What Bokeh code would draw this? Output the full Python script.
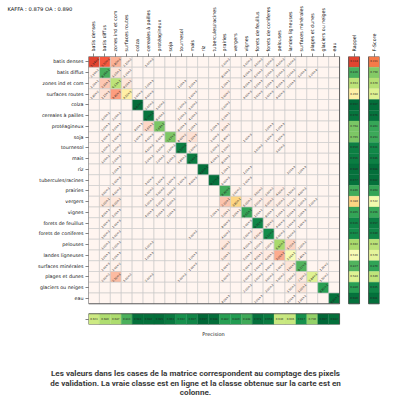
import numpy as np
from bokeh.plotting import figure
from bokeh.models import FactorRange, Label, ColumnDataSource
from bokeh.transform import linear_cmap
from bokeh.core.properties import value
from bokeh.embed import file_html
from bokeh.resources import INLINE

# ---------------- data ----------------
classes = ["batis denses", "batis diffus", "zones ind et com", "surfaces routes", "colza",
           "cereales à pailles", "protéagineux", "soja", "tournesol", "mais", "riz",
           "tubercules/racines", "prairies", "vergers", "vignes", "forets de feuillus",
           "forets de coniferes", "pelouses", "landes ligneuses", "surfaces minérales",
           "plages et dunes", "glaciers ou neiges", "eau"]

kappa = 0.879
oa = 0.890

# row-normalised confusion matrix (true class in rows), sparse: {column index: value}
conf_rows = [
    {0: .134, 1: .55, 2: .28, 3: .021, 5: .001, 12: .002, 14: .001, 15: .003, 16: .002, 17: .004, 18: .002},
    {0: .021, 1: .836, 2: .105, 3: .012, 12: .008, 14: .004, 15: .006, 16: .002, 17: .003, 18: .002, 19: .0005, 20: .0005},
    {0: .012, 1: .21, 2: .653, 3: .09, 5: .002, 8: .001, 9: .003, 12: .012, 14: .004, 15: .005, 16: .002, 17: .004, 18: .002},
    {0: .018, 1: .115, 2: .34, 3: .45, 4: .002, 5: .004, 9: .001, 12: .05, 14: .004, 15: .005, 16: .002, 17: .004},
    {4: .992, 5: .002, 6: .001, 8: .002, 9: .001, 12: .002},
    {1: .001, 2: .002, 5: .970, 6: .008, 8: .003, 9: .004, 12: .012},
    {1: .002, 2: .003, 4: .004, 5: .16, 6: .768, 8: .008, 9: .01, 11: .002, 12: .04, 16: .002, 17: .001},
    {1: .001, 2: .002, 4: .002, 5: .004, 6: .006, 7: .765, 8: .08, 9: .12, 11: .002, 12: .014, 14: .001, 16: .002, 17: .001},
    {1: .001, 2: .002, 5: .004, 6: .003, 7: .002, 8: .950, 9: .02, 11: .002, 12: .012, 15: .001, 17: .003},
    {1: .001, 2: .002, 5: .003, 6: .002, 7: .006, 8: .018, 9: .956, 11: .004, 12: .008},
    {2: .002, 10: .980, 12: .012, 14: .001, 18: .003, 19: .002},
    {2: .002, 5: .003, 6: .002, 7: .002, 8: .002, 9: .004, 11: .977, 12: .006, 14: .002},
    {1: .003, 2: .004, 5: .01, 6: .005, 7: .003, 12: .846, 13: .02, 15: .03, 16: .02, 17: .04, 18: .015, 19: .004},
    {1: .1, 2: .08, 5: .01, 6: .005, 7: .005, 12: .22, 13: .380, 14: .06, 15: .03, 16: .06, 17: .03, 18: .012, 19: .005, 20: .003},
    {1: .004, 2: .005, 5: .004, 6: .003, 7: .002, 11: .002, 12: .05, 13: .03, 14: .865, 15: .01, 16: .008, 17: .01, 18: .005, 19: .002},
    {1: .001, 2: .001, 12: .008, 14: .002, 15: .936, 16: .045, 17: .004, 18: .002, 19: .001},
    {1: .001, 2: .001, 9: .001, 12: .004, 14: .002, 15: .06, 16: .922, 17: .006, 18: .003},
    {1: .001, 2: .002, 5: .001, 12: .08, 14: .004, 15: .01, 16: .02, 17: .692, 18: .17, 19: .02},
    {1: .001, 2: .002, 5: .001, 9: .001, 12: .05, 14: .005, 15: .04, 16: .06, 17: .3, 18: .516, 19: .024},
    {1: .002, 2: .02, 9: .001, 12: .01, 14: .002, 15: .002, 16: .003, 17: .02, 18: .1, 19: .827, 21: .013},
    {1: .02, 2: .25, 3: .01, 5: .002, 8: .001, 12: .01, 14: .002, 15: .002, 16: .003, 17: .01, 18: .02, 19: .071, 20: .584, 21: .015},
    {14: .002, 16: .003, 18: .015, 19: .1, 21: .880},
    {12: .004, 15: .002, 18: .003, 19: .011, 22: .980},
]

recall = [0.134, 0.836, 0.653, 0.450, 0.992, 0.970, 0.768, 0.765, 0.950, 0.956, 0.980, 0.977,
          0.846, 0.380, 0.865, 0.936, 0.922, 0.692, 0.516, 0.827, 0.584, 0.880, 0.980]
fscore = [0.221, 0.750, 0.670, 0.584, 0.987, 0.976, 0.863, 0.853, 0.931, 0.946, 0.988, 0.982,
          0.864, 0.532, 0.856, 0.957, 0.940, 0.660, 0.570, 0.870, 0.649, 0.935, 0.981]
precision = [0.623, 0.680, 0.687, 0.833, 0.983, 0.982, 0.985, 0.963, 0.912, 0.937, 0.997, 0.988,
             0.882, 0.889, 0.848, 0.978, 0.959, 0.630, 0.636, 0.917, 0.730, 0.997, 0.982]

caption = ["Les valeurs dans les cases de la matrice correspondent au comptage des pixels",
           "de validation. La vraie classe est en ligne et la classe obtenue sur la carte est en",
           "colonne."]

# ---------------- palettes ----------------
def interp_palette(anchors, n=256):
    rgb = np.array([[int(h[i:i + 2], 16) for i in (1, 3, 5)] for h in anchors], float)
    pos = np.linspace(0, 1, len(anchors))
    t = np.linspace(0, 1, n)
    out = np.stack([np.interp(t, pos, rgb[:, k]) for k in range(3)], 1)
    return ["#%02x%02x%02x" % tuple(int(round(v)) for v in row) for row in out]

RDYLGN = interp_palette(["#a50026", "#d73027", "#f46d43", "#fdae61", "#fee08b", "#ffffbf",
                         "#d9ef8b", "#a6d96a", "#66bd63", "#1a9850", "#006837"])
REDS = interp_palette(["#fff5f0", "#fee0d2", "#fcbba1", "#fc9272", "#fb6a4a", "#ef3b2c",
                       "#cb181d", "#a50f15", "#67000d"])

def sci(v):
    m, e = ("%.2e" % v).split("e")
    return "%se%d" % (m, int(e))

# ---------------- sources ----------------
n = len(classes)
diag = dict(x=[], y=[], v=[])
off = dict(x=[], y=[], v=[])
txt = dict(x=[], y=[], t=[])
for i, row in enumerate(classes):
    for j, col in enumerate(classes):
        v = conf_rows[i].get(j, 0.0)
        d = diag if i == j else off
        d["x"].append(("m", col)); d["y"].append(("m", row)); d["v"].append(v)
        if v > 0:
            txt["x"].append(("m", col)); txt["y"].append(("m", row)); txt["t"].append(sci(v))

rap_src = ColumnDataSource(dict(x=[("r", "Rappel")] * n, y=[("m", c) for c in classes], v=recall,
                                t=["%.3f" % v for v in recall]))
f_src = ColumnDataSource(dict(x=[("f", "F-Score")] * n, y=[("m", c) for c in classes], v=fscore,
                              t=["%.3f" % v for v in fscore]))
p_src = ColumnDataSource(dict(x=[("m", c) for c in classes], y=[("p", " ")] * n, v=precision,
                              t=["%.3f" % v for v in precision]))

xf = [("m", c) for c in classes] + [("r", "Rappel"), ("f", "F-Score")]
yf = [("p", " ")] + [("m", c) for c in reversed(classes)]

W, H = 400, 396
p = figure(width=W, height=H,
           x_range=FactorRange(factors=xf, group_padding=0.83),
           y_range=FactorRange(factors=yf, group_padding=0.93),
           x_axis_location="above", output_backend="svg", toolbar_location=None,
           min_border_left=88, min_border_right=W - 379, min_border_top=56, min_border_bottom=H - 324)
p.outline_line_color = None
p.grid.grid_line_color = None
p.background_fill_color = "white"

for ax in (p.xaxis[0], p.yaxis[0]):
    ax.axis_line_color = None
    ax.major_tick_in = 0
    ax.major_tick_out = 3
    ax.major_tick_line_color = "#333333"
    ax.major_tick_line_width = 0.6
    ax.major_label_text_font = "DejaVu Sans"
    ax.major_label_text_font_size = "4.8px"
    ax.major_label_text_color = "#111111"
    ax.major_label_standoff = 2
    ax.group_text_font_size = "0px"
    ax.group_text_alpha = 0
    ax.separator_line_color = None
p.xaxis[0].major_label_orientation = np.pi / 2

cell_line = dict(line_color="#c8c8c8", line_width=0.6)
p.rect(x="x", y="y", width=1, height=1, source=ColumnDataSource(off),
       fill_color=linear_cmap("v", REDS, 0, 1), **cell_line)
p.rect(x="x", y="y", width=1, height=1, source=ColumnDataSource(diag),
       fill_color=linear_cmap("v", RDYLGN, 0, 1), **cell_line)

for src in (rap_src, f_src, p_src):
    cm = linear_cmap("v", RDYLGN, 0, 1)
    p.rect(x="x", y="y", width=1, height=1, source=src, fill_color=cm, line_color=cm, line_width=0.3)
    p.text(x="x", y="y", text="t", source=src, text_font_size="2.6px", text_align="center",
           text_baseline="middle", text_color="#222222", text_font=value("DejaVu Sans"))

mid = classes[n // 2]
border = dict(fill_color=None, line_color="#404040", line_width=0.8)
p.rect(x=[("m", mid)], y=[("m", mid)], width=n, height=n, **border)
p.rect(x=[("r", "Rappel")], y=[("m", mid)], width=1, height=n, **border)
p.rect(x=[("f", "F-Score")], y=[("m", mid)], width=1, height=n, **border)
p.rect(x=[("m", mid)], y=[("p", " ")], width=n, height=1, **border)

p.text(x="x", y="y", text="t", source=ColumnDataSource(txt), angle=np.pi / 4,
       text_font_size="2.8px", text_align="center", text_baseline="middle",
       text_color="#222222", text_font=value("DejaVu Sans"))

# free texts, placed in a side panel so that they are not clipped to the frame
p.add_layout(Label(x=7, y=5.5, x_units="canvas", y_units="canvas",
                   text="KAFFA : %.3f OA : %.3f" % (kappa, oa), text_font="DejaVu Sans",
                   text_font_size="5.2px", text_baseline="top", text_color="#111111"), "below")
p.add_layout(Label(x=213, y=333, x_units="canvas", y_units="canvas", text="Precision",
                   text_font="DejaVu Sans", text_font_size="5px", text_align="center",
                   text_baseline="middle", text_color="#111111"), "below")
for k, line in enumerate(caption):
    p.add_layout(Label(x=195, y=372.5 + 9.5 * k, x_units="canvas", y_units="canvas", text=line,
                       text_font="Roboto", text_font_style="bold", text_font_size="8.1px",
                       text_align="center", text_baseline="middle", text_color="#3a3a3a"), "below")

open("out.html", "w").write(file_html(p, INLINE))
